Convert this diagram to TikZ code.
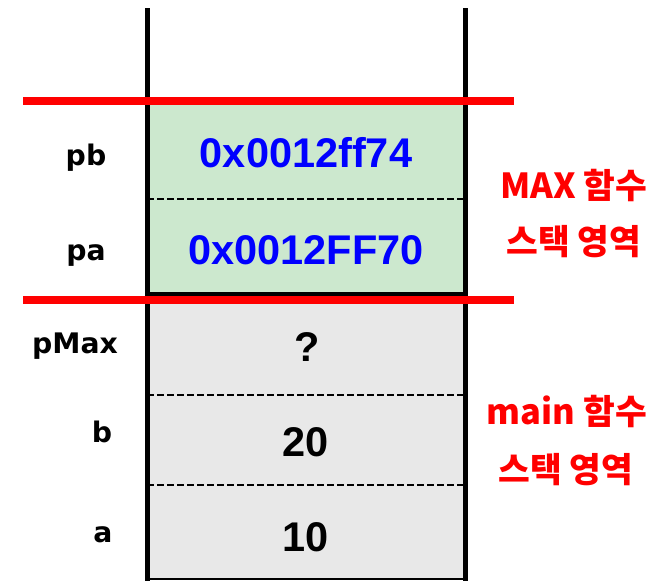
\documentclass[tikz,border=0pt]{standalone}
\usepackage{fontspec}
\setmainfont{Liberation Sans}
\newfontfamily\lblfont{DejaVu Sans}
\newfontfamily\kr{Noto Sans CJK KR}
\definecolor{cellgreen}{RGB}{204,232,206}
\definecolor{cellgray}{RGB}{232,232,232}
\definecolor{valblue}{RGB}{0,0,255}
\begin{document}
\begin{tikzpicture}[x=1pt,y=-1pt,
  lbl/.style={anchor=base,inner sep=0pt,font=\lblfont\fontsize{28.3}{30}\selectfont\bfseries},
  val/.style={anchor=base,inner sep=0pt,font=\fontsize{41.5}{44}\selectfont\bfseries},
  area/.style={anchor=base,inner sep=0pt,text=red,font=\kr\fontsize{34.5}{36}\selectfont\bfseries},
  sepline/.style={dash pattern=on 7pt off 3pt,line width=2.2pt},
  redline/.style={red,line width=7.5pt},
  wall/.style={line width=5pt}]
\useasboundingbox (0,0) rectangle (659,581);
% cell backgrounds
\fill[cellgreen] (147,100) rectangle (465,295);
\fill[cellgray] (147,300) rectangle (465,580);
% cell separators
\draw[sepline] (147,199) -- (465,199);
\draw[sepline] (147,395) -- (465,395);
\draw[sepline] (147,485) -- (465,485);
\draw[line width=3.5pt] (147,294) -- (465,294);
\draw[line width=2.5pt] (147,579) -- (465,579);
% walls
\draw[wall] (147,8) -- (147,581);
\draw[wall] (465,8) -- (465,581);
% red boundaries
\draw[redline] (23,101) -- (514,101);
\draw[redline] (23,300) -- (514,300);
% labels
\node[lbl] (lpb) at (86,165) {pb};
\node[lbl] (lpa) at (86,260) {pa};
\node[lbl] (lpmax) at (75,353) {pMax};
\node[lbl] (lb) at (102,442) {b};
\node[lbl] (la) at (103,542) {a};
% values
\node[val,text=valblue] (vpb) at (306,167) {0x0012ff74};
\node[val,text=valblue] (vpa) at (306,264) {0x0012FF70};
\node[val] (vpmax) at (307,361) {?};
\node[val] (vb) at (306,456) {20};
\node[val] (va) at (306,551) {10};
% areas
\node[area] (max1) at (574,198) {MAX 함수};
\node[area] (max2) at (574,254) {스택 영역};
\node[area] (main1) at (567,424) {main 함수};
\node[area] (main2) at (566,482) {스택 영역};
\end{tikzpicture}
\end{document}
